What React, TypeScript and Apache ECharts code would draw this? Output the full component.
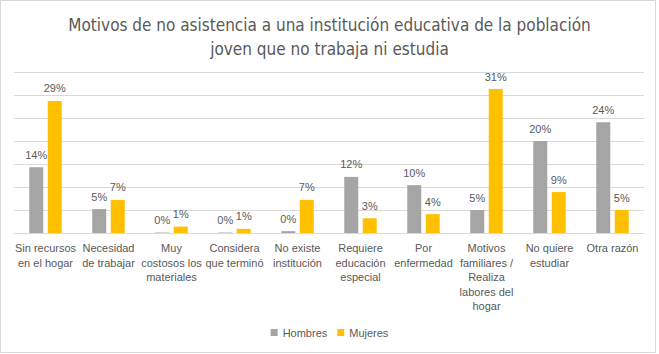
import React, { useEffect, useRef } from "react";
import * as echarts from "echarts";

const titleText = "Motivos de no asistencia a una institución educativa de la población\njoven que no trabaja ni estudia";

const categories = [
  "Sin recursos\nen el hogar",
  "Necesidad\nde trabajar",
  "Muy\ncostosos los\nmateriales",
  "Considera\nque terminó",
  "No existe\ninstitución",
  "Requiere\neducación\nespecial",
  "Por\nenfermedad",
  "Motivos\nfamiliares /\nRealiza\nlabores del\nhogar",
  "No quiere\nestudiar",
  "Otra razón",
];

const hombres = [14.3, 5.2, 0.1, 0.1, 0.4, 12.2, 10.4, 5.0, 20.0, 24.1];
const mujeres = [28.7, 7.2, 1.4, 0.9, 7.2, 3.2, 4.1, 31.3, 8.9, 5.0];

const seriesNames = ["Hombres", "Mujeres"];
const colors = ["#a5a5a5", "#ffc000"];

const FONT = "'Liberation Sans', 'DejaVu Sans', sans-serif";
const TITLE_FONT = "'Liberation Sans Narrow', 'DejaVu Sans Condensed', 'Liberation Sans', sans-serif";

export default function App() {
  const ref = useRef<HTMLDivElement>(null);
  useEffect(() => {
    if (!ref.current) return;
    const chart = echarts.init(ref.current, undefined, { renderer: "svg" });
    const label = {
      show: true,
      position: "top",
      distance: 7,
      color: "#595959",
      fontSize: 11,
      fontFamily: FONT,
      formatter: (p: any) => Math.round(p.value) + "%",
    };
    chart.setOption({
      animation: false,
      backgroundColor: "#ffffff",
      textStyle: { fontFamily: FONT },
      title: {
        text: titleText,
        left: "center",
        top: 8,
        textStyle: {
          color: "#595959",
          fontSize: 17,
          fontWeight: "normal",
          fontFamily: TITLE_FONT,
          lineHeight: 24,
          align: "center",
        },
      },
      graphic: [
        {
          type: "rect",
          shape: { x: 0.5, y: 0.5, width: 655, height: 352 },
          style: { fill: "none", stroke: "#d9d9d9", lineWidth: 1 },
          silent: true,
        },
      ],
      legend: {
        data: seriesNames,
        bottom: 11,
        left: "center",
        itemWidth: 7,
        itemHeight: 7,
        itemGap: 10,
        icon: "rect",
        textStyle: { color: "#595959", fontSize: 11, fontFamily: FONT },
      },
      grid: { left: 14, right: 15, top: 72, bottom: 121 },
      xAxis: {
        type: "category",
        data: categories,
        axisLine: { lineStyle: { color: "#d9d9d9" } },
        axisTick: { show: false },
        axisLabel: {
          interval: 0,
          color: "#595959",
          fontSize: 11,
          lineHeight: 14.5,
          margin: 8,
          fontFamily: FONT,
        },
      },
      yAxis: {
        type: "value",
        min: 0,
        max: 35,
        interval: 5,
        axisLabel: { show: false },
        axisLine: { show: false },
        axisTick: { show: false },
        splitLine: { lineStyle: { color: "#d9d9d9" } },
      },
      series: [
        {
          name: seriesNames[0],
          type: "bar",
          data: hombres,
          barWidth: 14,
          barGap: "32%",
          itemStyle: { color: colors[0] },
          label,
        },
        {
          name: seriesNames[1],
          type: "bar",
          data: mujeres,
          barWidth: 14,
          barGap: "32%",
          itemStyle: { color: colors[1] },
          label,
        },
      ],
    });
    return () => chart.dispose();
  }, []);
  return (
    <div
      ref={ref}
      style={{ position: "fixed", left: 0, top: 0, width: 659, height: 354 }}
    />
  );
}
